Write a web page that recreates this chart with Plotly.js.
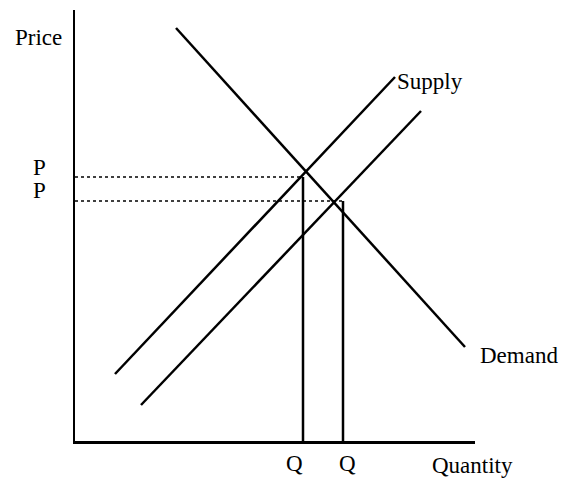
<!DOCTYPE html>
<html>
<head>
<meta charset="utf-8">
<script src="https://cdn.plot.ly/plotly-3.0.1.min.js"></script>
<style>html,body{margin:0;padding:0;background:#fff;}#chart{width:561px;height:479px;}</style>
</head>
<body>
<div id="chart"></div>
<script>
// Data (abstract quantity/price units, origin at the axes corner)
const demandX = [101, 390];
const demandY = [413, 94];
const supplyX = [40, 320];
const supplyY = [67, 364];
const supply2X = [66, 346];
const supply2Y = [36, 330];
const priceLevels = [264, 240];   // P (upper), P (lower)
const quantityLevels = [228, 268]; // Q (left), Q (right)
const priceLabels = ["P", "P"];
const quantityLabels = ["Q", "Q"];

const font = {family: "Liberation Serif, 'Times New Roman', serif", size: 23, color: "#000"};
const solid = {color: "#000", width: 2.5};
const dotted = {color: "#000", width: 1.5, dash: "dot"};

const traces = [
  {x: demandX, y: demandY, mode: "lines", line: solid, hoverinfo: "skip"},
  {x: supplyX, y: supplyY, mode: "lines", line: solid, hoverinfo: "skip"},
  {x: supply2X, y: supply2Y, mode: "lines", line: solid, hoverinfo: "skip"},
  {x: [0, quantityLevels[0]], y: [priceLevels[0], priceLevels[0]], mode: "lines", line: dotted, hoverinfo: "skip"},
  {x: [0, quantityLevels[1]], y: [priceLevels[1], priceLevels[1]], mode: "lines", line: dotted, hoverinfo: "skip"},
  {x: [quantityLevels[0], quantityLevels[0]], y: [0, priceLevels[0]], mode: "lines", line: solid, hoverinfo: "skip"},
  {x: [quantityLevels[1], quantityLevels[1]], y: [0, priceLevels[1]], mode: "lines", line: solid, hoverinfo: "skip"}
];

const annotations = [
  {xref: "paper", yref: "paper", x: -0.0925, y: 0.937, text: "Price", xanchor: "center", yanchor: "middle"},
  {xref: "paper", x: -0.09, y: priceLevels[0], yshift: 10, text: priceLabels[0], xanchor: "center", yanchor: "middle"},
  {xref: "paper", x: -0.09, y: priceLevels[1], yshift: 11, text: priceLabels[1], xanchor: "center", yanchor: "middle"},
  {x: quantityLevels[0], y: 0, xshift: -9, yshift: -22, text: quantityLabels[0], xanchor: "center", yanchor: "middle"},
  {x: quantityLevels[1], y: 0, xshift: 4, yshift: -22, text: quantityLabels[1], xanchor: "center", yanchor: "middle"},
  {x: 397, y: 0, yshift: -24, text: "Quantity", xanchor: "center", yanchor: "middle"},
  {x: supplyX[1], y: supplyY[1], xshift: 0, yshift: -4, text: "Supply", xanchor: "left", yanchor: "middle"},
  {x: demandX[1], y: demandY[1], xshift: 13, yshift: -8, text: "Demand", xanchor: "left", yanchor: "middle"}
].map(a => Object.assign({showarrow: false, font: font, xref: "x", yref: "y"}, a));

const layout = {
  width: 561, height: 479,
  margin: {l: 75, r: 86, t: 10, b: 38, pad: 0},
  paper_bgcolor: "#fff", plot_bgcolor: "#fff",
  showlegend: false,
  xaxis: {range: [0, 400], showline: true, linecolor: "#000", linewidth: 2.5, showgrid: false, zeroline: false, showticklabels: false, ticks: "", fixedrange: true},
  yaxis: {range: [0, 431], showline: true, linecolor: "#000", linewidth: 2.5, showgrid: false, zeroline: false, showticklabels: false, ticks: "", fixedrange: true},
  annotations: annotations
};

Plotly.newPlot("chart", traces, layout, {staticPlot: true, displayModeBar: false});
</script>
</body>
</html>
